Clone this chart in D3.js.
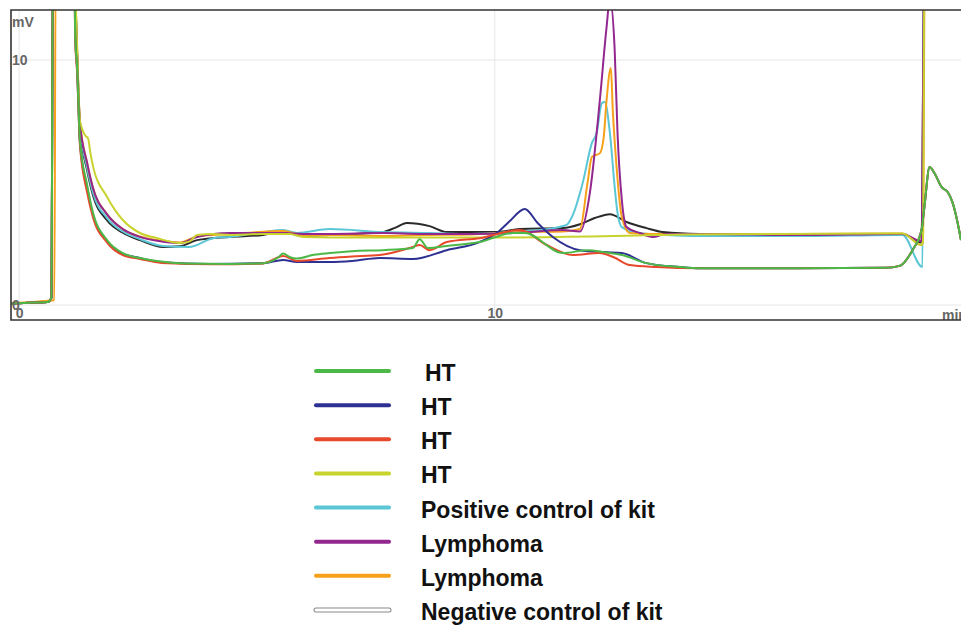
<!DOCTYPE html>
<html>
<head>
<meta charset="utf-8">
<script src="https://cdn.jsdelivr.net/npm/d3@7"></script>
<style>
  body { margin: 0; background: #fff; }
  svg { display: block; font-family: "Liberation Sans", Arial, sans-serif; }
</style>
</head>
<body>
<script>
// chromatogram traces, [minutes, mV]
var htGreen = [[-0.17,0.05],[0.3,0.1],[0.6,0.12],[0.68,0.3],[0.71,14],[1.16,14],[1.18,11],[1.22,9.7],[1.28,6.7],[1.43,4.9],[1.55,3.8],[1.85,2.65],[2.18,2.12],[2.54,1.92],[2.9,1.8],[3.5,1.7],[4.43,1.68],[5.13,1.71],[5.45,1.95],[5.55,2.1],[5.7,1.95],[5.84,1.9],[6.2,2.05],[6.53,2.12],[7.0,2.2],[7.65,2.24],[8.28,2.33],[8.42,2.69],[8.59,2.33],[8.99,2.41],[9.68,2.57],[10.38,2.94],[10.63,2.94],[11.43,2.12],[11.95,2.24],[12.3,2.16],[12.67,2.04],[13.19,1.71],[13.89,1.55],[14.31,1.5],[16.41,1.5],[18.2,1.52],[18.51,1.6],[18.78,2.24],[18.97,3.06],[19.03,4.0],[19.14,5.63],[19.24,5.39],[19.39,4.82],[19.52,4.61],[19.62,4.2],[19.73,3.35],[19.8,2.65]];
var htBlue = [[-0.17,0.05],[0.3,0.1],[0.6,0.12],[0.68,0.3],[0.71,14],[1.16,14],[1.18,11],[1.22,9.6],[1.28,6.6],[1.43,4.8],[1.55,3.7],[1.85,2.6],[2.18,2.1],[2.54,1.92],[3.0,1.75],[4.0,1.68],[5.13,1.71],[5.55,1.84],[5.84,1.76],[6.53,1.76],[7.0,1.8],[7.58,1.92],[8.28,1.88],[8.99,2.24],[9.68,2.57],[10.04,2.94],[10.3,3.4],[10.63,3.92],[10.9,3.35],[11.22,2.78],[11.79,2.24],[12.3,2.16],[12.67,2.12],[13.19,1.71],[13.89,1.55],[14.31,1.5],[16.41,1.5],[18.2,1.52],[18.51,1.6],[18.78,2.24],[18.97,3.06],[19.03,4.0],[19.14,5.63],[19.24,5.39],[19.39,4.82],[19.52,4.61],[19.62,4.2],[19.73,3.35],[19.8,2.65]];
var htRed = [[-0.17,0.05],[0.3,0.1],[0.6,0.12],[0.68,0.3],[0.71,14],[1.16,14],[1.18,10.8],[1.22,9.5],[1.28,6.5],[1.43,4.6],[1.55,3.6],[1.85,2.55],[2.18,2.04],[2.54,1.88],[3.0,1.72],[4.1,1.66],[5.13,1.7],[5.55,2.0],[5.84,1.8],[6.53,1.92],[7.0,1.98],[7.58,2.04],[8.28,2.37],[8.42,2.45],[8.63,2.24],[8.99,2.57],[9.68,2.73],[10.53,3.06],[11.09,2.45],[11.64,2.04],[12.2,2.12],[12.5,1.95],[12.84,1.63],[13.4,1.55],[14.31,1.5],[16.41,1.5],[18.2,1.52],[18.51,1.6],[18.78,2.24],[18.97,3.06],[19.03,4.0],[19.14,5.63],[19.24,5.39],[19.39,4.82],[19.52,4.61],[19.62,4.2],[19.73,3.35],[19.8,2.65]];
var htYellow = [[-0.17,0.05],[0.3,0.1],[0.6,0.12],[0.68,0.3],[0.71,14],[1.16,14],[1.2,11.8],[1.28,7.5],[1.4,6.9],[1.45,6.8],[1.5,6.2],[1.55,5.7],[1.85,4.41],[2.18,3.47],[2.54,2.94],[2.9,2.73],[3.38,2.53],[3.59,2.6],[3.74,2.86],[4.08,2.9],[4.43,2.86],[5.13,2.9],[5.69,2.9],[5.97,2.78],[6.53,2.76],[7.65,2.76],[10.0,2.76],[12.0,2.8],[13.0,2.84],[14.0,2.88],[16.0,2.9],[18.57,2.92],[18.97,2.45],[19.0,2.6],[19.03,14],[19.8,14]];
var posControl = [[-0.17,0.05],[0.3,0.1],[0.6,0.12],[0.68,0.3],[0.71,14],[1.16,14],[1.2,11.6],[1.28,7.3],[1.43,5.6],[1.55,4.6],[1.85,3.55],[2.18,3.0],[2.54,2.69],[3.03,2.41],[3.59,2.37],[4.08,2.73],[4.43,2.78],[5.13,2.98],[5.55,3.06],[5.84,2.94],[6.53,3.1],[7.65,2.98],[8.63,2.94],[9.5,2.9],[10.5,3.0],[10.95,3.06],[11.51,3.27],[11.62,3.59],[11.85,5.0],[12.04,6.61],[12.14,7.02],[12.25,8.24],[12.31,8.29],[12.42,7.02],[12.52,4.82],[12.58,3.76],[12.67,3.18],[13.05,2.94],[13.61,2.86],[14.3,2.82],[16.4,2.82],[18.57,2.86],[18.99,1.55],[19.02,14],[19.8,14]];
var lymphPurple = [[-0.17,0.05],[0.3,0.1],[0.6,0.12],[0.68,0.3],[0.71,14],[1.16,14],[1.2,11.5],[1.28,7.4],[1.43,5.8],[1.55,4.8],[1.85,3.7],[2.18,3.1],[2.54,2.78],[2.9,2.62],[3.38,2.53],[3.74,2.78],[4.43,2.94],[5.55,2.94],[5.97,2.9],[6.53,2.9],[7.65,2.94],[8.5,2.9],[9.5,2.9],[10.5,2.95],[11.43,3.06],[11.79,3.0],[12.0,4.6],[12.21,8.4],[12.35,11.35],[12.42,12.5],[12.52,10.41],[12.58,7.0],[12.67,4.29],[12.77,3.18],[13.05,2.94],[13.32,2.78],[13.6,2.9],[14.3,2.9],[16.4,2.86],[18.57,2.9],[18.97,2.6],[19.03,14],[19.8,14]];
var lymphOrange = [[-0.17,0.08],[0.3,0.12],[0.6,0.18],[0.74,0.2],[0.77,14],[1.16,14],[1.2,11.6],[1.28,7.5],[1.43,5.8],[1.55,4.8],[1.85,3.7],[2.18,3.1],[2.54,2.8],[2.9,2.65],[3.38,2.55],[3.74,2.8],[4.43,2.9],[5.55,3.02],[5.97,2.86],[6.53,2.86],[7.65,2.82],[8.5,2.86],[9.5,2.88],[10.53,2.98],[11.43,3.0],[11.79,3.1],[11.95,5.0],[12.04,6.04],[12.21,6.2],[12.29,6.86],[12.35,8.37],[12.44,9.67],[12.48,7.96],[12.56,5.63],[12.67,3.59],[12.84,2.94],[13.3,2.9],[14.3,2.9],[16.4,2.9],[18.57,2.92],[18.97,2.45],[19.0,2.6],[19.04,14],[19.8,14]];
var negControl = [[-0.17,0.05],[0.3,0.1],[0.6,0.12],[0.68,0.3],[0.71,14],[1.16,14],[1.2,11.4],[1.28,7.2],[1.43,5.5],[1.55,4.5],[1.85,3.45],[2.18,2.95],[2.54,2.65],[3.03,2.37],[3.38,2.4],[3.74,2.65],[4.43,2.78],[5.13,2.86],[5.55,2.98],[5.97,2.82],[6.53,2.86],[7.65,2.98],[7.9,3.15],[8.15,3.35],[8.63,3.22],[8.99,2.98],[10.04,2.98],[10.53,3.1],[11.43,3.14],[11.79,3.3],[12.1,3.55],[12.42,3.71],[12.77,3.39],[13.19,3.14],[13.53,2.98],[14.3,2.9],[16.4,2.88],[18.57,2.9],[18.97,2.55],[19.03,14],[19.8,14]];

var legendLabels = ["HT", "HT", "HT", "HT", "Positive control of kit", "Lymphoma", "Lymphoma", "Negative control of kit"];
var legendColors = ["#4cb847", "#2e3192", "#e8482c", "#c8d32d", "#5bc6d6", "#92278f", "#f6a01c", "#ffffff"];
var xTicks = [0, 10];
var yTicks = [0, 10];

// draw order: back to front
var traces = [
  {data: negControl, color: "#2a2a2a"},
  {data: posControl, color: "#5bc6d6"},
  {data: lymphOrange, color: "#f6a01c"},
  {data: lymphPurple, color: "#92278f"},
  {data: htYellow, color: "#c8d32d"},
  {data: htBlue, color: "#2e3192"},
  {data: htRed, color: "#e8482c"},
  {data: htGreen, color: "#4cb847"}
];

var W = 961, H = 625;
var plot = {left: 11, top: 10, right: 961, bottom: 320};

var svg = d3.select("body").append("svg")
    .attr("width", W)
    .attr("height", H);

var x = d3.scaleLinear().domain([-0.17, 19.8]).range([plot.left, plot.right]);
var y = d3.scaleLinear().domain([-0.61, 12.04]).range([plot.bottom, plot.top]);

svg.append("clipPath").attr("id", "clip")
  .append("rect")
    .attr("x", plot.left).attr("y", plot.top)
    .attr("width", plot.right - plot.left).attr("height", plot.bottom - plot.top);

// light grid lines
svg.append("g").selectAll("line.vg")
    .data(xTicks)
  .enter().append("line")
    .attr("x1", function(d) { return x(d); })
    .attr("x2", function(d) { return x(d); })
    .attr("y1", plot.top).attr("y2", plot.bottom)
    .style("stroke", "#e6e6e6").style("stroke-width", 1);
svg.append("g").selectAll("line.hg")
    .data(yTicks)
  .enter().append("line")
    .attr("x1", plot.left).attr("x2", plot.right)
    .attr("y1", function(d) { return y(d); })
    .attr("y2", function(d) { return y(d); })
    .style("stroke", "#e6e6e6").style("stroke-width", 1);

// traces
var line = d3.line()
    .x(function(d) { return x(d[0]); })
    .y(function(d) { return y(d[1]); })
    .curve(d3.curveMonotoneX);

svg.append("g")
    .attr("clip-path", "url(#clip)")
  .selectAll("path")
    .data(traces)
  .enter().append("path")
    .attr("d", function(d) { return line(d.data); })
    .style("fill", "none")
    .style("stroke", function(d) { return d.color; })
    .style("stroke-width", 2)
    .style("stroke-linejoin", "round");

// axes (labels sit inside the frame)
var yAxis = d3.axisRight(y).tickValues(yTicks).tickSize(0).tickPadding(1);
var gy = svg.append("g")
    .attr("transform", "translate(" + plot.left + ",0)")
    .call(yAxis);
gy.select(".domain").remove();

var xAxis = d3.axisBottom(x).tickValues(xTicks).tickSize(0).tickPadding(3);
var gx = svg.append("g")
    .attr("transform", "translate(0," + y(0) + ")")
    .call(xAxis);
gx.select(".domain").remove();

svg.selectAll(".tick text")
    .style("font-size", "14px")
    .style("font-weight", "bold")
    .style("fill", "#666")
    .style("font-family", "'Liberation Sans', Arial, sans-serif");

svg.append("text")
    .attr("x", plot.left + 1)
    .attr("y", 27)
    .style("font-size", "14px")
    .style("font-weight", "bold")
    .style("fill", "#666")
    .text("mV");

svg.append("text")
    .attr("x", 942)
    .attr("y", 320)
    .style("font-size", "14px")
    .style("font-weight", "bold")
    .style("fill", "#666")
    .text("min");

// frame
svg.append("path")
    .attr("d", "M" + (plot.right + 2) + "," + plot.top + "H" + plot.left + "V" + plot.bottom + "H" + (plot.right + 2))
    .style("fill", "none")
    .style("stroke", "#333")
    .style("stroke-width", 1.6);

// legend
var ly = d3.scaleLinear().domain([0, legendLabels.length - 1]).range([371, 610]);

var legend = svg.selectAll(".legend")
    .data(legendLabels)
  .enter().append("g")
    .attr("class", "legend")
    .attr("transform", function(d, i) { return "translate(0," + ly(i) + ")"; });

legend.filter(function(d, i) { return i == legendLabels.length - 1; })
  .append("line")
    .attr("x1", 316).attr("x2", 389)
    .style("stroke", "#888")
    .style("stroke-width", 5)
    .style("stroke-linecap", "round");

legend.append("line")
    .attr("x1", 316).attr("x2", 389)
    .style("stroke", function(d, i) { return legendColors[i]; })
    .style("stroke-width", function(d, i) { return i == legendLabels.length - 1 ? 3 : 4; })
    .style("stroke-linecap", "round");

legend.append("text")
    .attr("x", function(d, i) { return i == 0 ? 425 : 421; })
    .attr("y", 10)
    .style("font-size", "23px")
    .style("font-weight", "bold")
    .style("fill", "#111")
    .text(function(d) { return d; });
</script>
</body>
</html>
